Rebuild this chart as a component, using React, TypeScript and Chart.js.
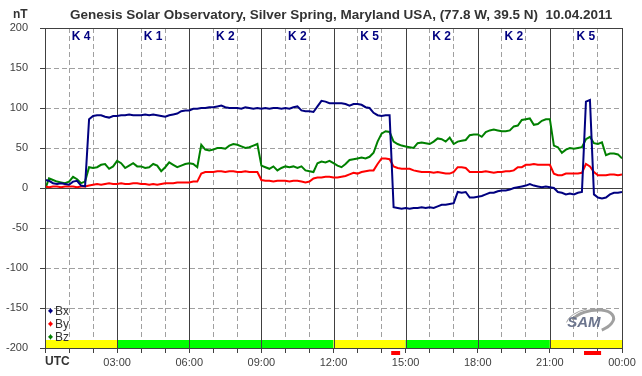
import React, { useEffect, useRef } from 'react';
import { Chart, registerables } from 'chart.js';

Chart.register(...registerables);

// Sample step of the series, in minutes (10-minute samples from 00:00 to 24:00)
const STEP_MINUTES = 10;

const BX = [
  10, 9, 6, 5, 6, 5,
  4, 8, 9, 3, 2, 86,
  90, 91, 91, 89, 88, 90,
  90, 91, 91, 92, 91, 91,
  91, 92, 91, 92, 91, 90,
  89, 91, 92, 93, 96, 97,
  97, 99, 99, 100, 100, 101,
  101, 102, 103, 101, 100, 100,
  100, 99, 101, 100, 99, 100,
  99, 100, 99, 100, 100, 99,
  100, 99, 101, 102, 97, 96,
  96, 95, 102, 109, 108, 106,
  106, 106, 106, 105, 103, 105,
  105, 104, 101, 100, 94, 91,
  90, 91, 91, -24, -25, -26,
  -25, -26, -25, -25, -24, -25,
  -24, -25, -23, -21, -21, -20,
  -19, -5, -6, -5, -12, -12,
  -11, -10, -8, -6, -6, -4,
  -3, -3, -2, 0, 1, 2,
  3, 5, 3, 2, 1, 2,
  1, 0, -5, -6, -8, -7,
  -8, -6, -5, 108, 110, -8,
  -12, -13, -12, -8, -6, -6,
  -5,
];

const BY = [
  2, 1, 2, 2, 1, 2,
  2, 2, 1, 2, 2, 3,
  4, 5, 4, 5, 6, 5,
  5, 6, 5, 5, 6, 6,
  5, 5, 4, 5, 4, 5,
  6, 6, 6, 7, 7, 7,
  7, 8, 8, 18, 20, 20,
  20, 21, 21, 20, 21, 21,
  20, 20, 21, 20, 20, 20,
  10, 9, 9, 8, 9, 9,
  9, 8, 9, 9, 8, 7,
  8, 12, 13, 13, 14, 14,
  13, 13, 14, 15, 17, 19,
  18, 20, 21, 22, 22, 30,
  37, 37, 36, 27, 25, 24,
  24, 24, 22, 21, 20, 20,
  20, 19, 20, 19, 18, 18,
  20, 26, 26, 25, 20, 20,
  20, 20, 21, 20, 19, 20,
  20, 21, 21, 22, 26, 26,
  29, 29, 30, 29, 29, 29,
  29, 18, 16, 16, 18, 18,
  18, 18, 19, 30, 27, 20,
  16, 16, 16, 17, 17, 16,
  17,
];

const BZ = [
  -2, 12, 10, 8, 7, 6,
  8, 14, 11, 6, 8, 26,
  25, 26, 29, 30, 24, 27,
  34, 31, 25, 28, 31, 27,
  27, 25, 26, 30, 28, 21,
  26, 32, 29, 26, 28, 30,
  31, 30, 26, 54, 48, 47,
  48, 50, 50, 49, 53, 55,
  54, 52, 50, 51, 53, 55,
  28, 26, 24, 27, 22, 25,
  27, 26, 27, 25, 27, 22,
  21, 20, 31, 33, 32, 34,
  31, 28, 26, 30, 35, 36,
  37, 38, 37, 39, 44, 58,
  68, 71, 70, 58, 55, 53,
  52, 51, 50, 56, 57, 56,
  55, 58, 62, 61, 58, 63,
  55, 58, 59, 60, 66, 67,
  67, 64, 70, 72, 73, 72,
  71, 71, 72, 77, 78, 85,
  86, 87, 79, 80, 84, 86,
  86, 53, 51, 44, 48, 50,
  49, 50, 51, 61, 64, 56,
  55, 57, 41, 43, 43, 42,
  37,
];

const SERIES_NAMES = ['Bx', 'By', 'Bz'];
const K_INDEX = ['K 4', 'K 1', 'K 2', 'K 2', 'K 5', 'K 2', 'K 2', 'K 5'];
const X_TICK_LABELS = ['UTC', '03:00', '06:00', '09:00', '12:00', '15:00', '18:00', '21:00', '00:00'];
const STATUS_START = [0, 3, 12, 15, 21];
const STATUS_END = [3, 12, 15, 21, 24];
const STATUS_LEVEL = ['Y', 'G', 'Y', 'G', 'Y'];
const ALERT_START = [14.4, 22.42];
const ALERT_END = [14.77, 23.13];
const TITLE = 'Genesis Solar Observatory, Silver Spring, Maryland USA, (77.8 W, 39.5 N)  10.04.2011';

const COLORS = ['#000080', '#ff0000', '#008000'];
const STATUS_COLORS: Record<string, string> = { Y: '#ffff00', G: '#00ff00' };
const FONT = '"Liberation Sans", Arial, sans-serif';
const DARK = '#404040';

function toPoints(arr: number[]) {
  return arr.map((v, i) => ({ x: (i * STEP_MINUTES) / 60, y: v }));
}

export default function App() {
  const ref = useRef<HTMLCanvasElement | null>(null);

  useEffect(() => {
    const canvas = ref.current;
    if (!canvas) return;

    const decor = {
      id: 'decor',
      beforeDraw(chart: any) {
        const ctx = chart.ctx;
        ctx.save();
        ctx.fillStyle = '#ffffff';
        ctx.fillRect(0, 0, chart.width, chart.height);
        ctx.restore();
      },
      beforeDatasetsDraw(chart: any) {
        const ctx = chart.ctx;
        const xs = chart.scales.x;
        const ys = chart.scales.y;
        const a = chart.chartArea;
        ctx.save();
        // status bar
        for (let i = 0; i < STATUS_START.length; i++) {
          const x1 = xs.getPixelForValue(STATUS_START[i]);
          const x2 = xs.getPixelForValue(STATUS_END[i]);
          const yTop = ys.getPixelForValue(-190);
          const yBot = ys.getPixelForValue(-200);
          ctx.fillStyle = STATUS_COLORS[STATUS_LEVEL[i]];
          ctx.fillRect(x1, yTop, x2 - x1, yBot - yTop);
        }
        // solid lines every 3 hours and at 0
        ctx.strokeStyle = DARK;
        ctx.lineWidth = 1;
        for (let h = 3; h < 24; h += 3) {
          const x = Math.round(xs.getPixelForValue(h)) + 0.5;
          ctx.beginPath();
          ctx.moveTo(x, a.top);
          ctx.lineTo(x, a.bottom);
          ctx.stroke();
        }
        const y0 = Math.round(ys.getPixelForValue(0)) + 0.5;
        ctx.beginPath();
        ctx.moveTo(a.left, y0);
        ctx.lineTo(a.right, y0);
        ctx.stroke();
        // K index labels
        ctx.fillStyle = '#000080';
        ctx.font = `bold 12px ${FONT}`;
        ctx.textAlign = 'center';
        ctx.textBaseline = 'middle';
        K_INDEX.forEach((k, i) => {
          const x = xs.getPixelForValue(i * 3 + 1.5);
          ctx.fillText(k, x, a.top + 9);
        });
        // legend
        ctx.font = `12px ${FONT}`;
        ctx.textAlign = 'left';
        SERIES_NAMES.forEach((n, i) => {
          const y = ys.getPixelForValue(-153) + i * 13;
          ctx.fillStyle = COLORS[i];
          ctx.fillRect(a.left + 4, y - 1, 3, 3);
          ctx.fillRect(a.left + 5, y - 2, 1, 5);
          ctx.fillRect(a.left + 3, y, 5, 1);
          ctx.fillStyle = '#333333';
          ctx.fillText(n, a.left + 10, y + 1);
        });
        // SAM logo
        const lx = xs.getPixelForValue(22.5);
        const ly = ys.getPixelForValue(-167);
        ctx.strokeStyle = 'rgba(150,150,150,0.9)';
        ctx.lineWidth = 3;
        ctx.beginPath();
        ctx.ellipse(lx + 6, ly, 22, 11, -0.2, -2.6, 1.2);
        ctx.stroke();
        ctx.lineWidth = 1;
        ctx.beginPath();
        ctx.ellipse(lx + 4, ly - 1, 24, 12, -0.2, -2.9, -1.6);
        ctx.stroke();
        ctx.font = `italic bold 15px ${FONT}`;
        ctx.fillStyle = 'rgba(100,110,135,0.95)';
        ctx.textAlign = 'center';
        ctx.fillText('SAM', lx - 2, ly + 1);
        ctx.restore();
      },
      afterDraw(chart: any) {
        const ctx = chart.ctx;
        const xs = chart.scales.x;
        const a = chart.chartArea;
        ctx.save();
        // frame
        ctx.strokeStyle = DARK;
        ctx.lineWidth = 1;
        ctx.strokeRect(Math.round(a.left) + 0.5, Math.round(a.top) + 0.5, Math.round(a.right - a.left), Math.round(a.bottom - a.top));
        // alert markers below axis
        ctx.fillStyle = '#ff0000';
        for (let i = 0; i < ALERT_START.length; i++) {
          const x1 = xs.getPixelForValue(ALERT_START[i]);
          const x2 = xs.getPixelForValue(ALERT_END[i]);
          ctx.fillRect(x1, a.bottom + 3, x2 - x1, 4);
        }
        // title and unit
        ctx.fillStyle = '#333333';
        ctx.textAlign = 'left';
        ctx.textBaseline = 'alphabetic';
        ctx.font = `bold 13.5px ${FONT}`;
        ctx.fillText(TITLE, 70, 19);
        ctx.font = `bold 12px ${FONT}`;
        ctx.fillText('nT', 13, 18);
        // UTC label
        ctx.textBaseline = 'top';
        ctx.fillText(X_TICK_LABELS[0], a.left, a.bottom + 8);
        ctx.restore();
      },
    };

    const chart = new Chart(canvas, {
      type: 'line',
      data: {
        datasets: [BX, BY, BZ].map((arr, i) => ({
          label: SERIES_NAMES[i],
          data: toPoints(arr),
          borderColor: COLORS[i],
          backgroundColor: COLORS[i],
          borderWidth: 2,
          pointRadius: 0,
          tension: 0,
          fill: false,
        })),
      },
      options: {
        responsive: false,
        animation: false,
        events: [],
        layout: { padding: { left: 0, right: 20, top: 28, bottom: 0 } },
        plugins: { legend: { display: false }, title: { display: false }, tooltip: { enabled: false } },
        scales: {
          x: {
            type: 'linear',
            min: 0,
            max: 24,
            afterFit: (s: any) => { s.height = 28; },
            ticks: {
              stepSize: 1,
              autoSkip: false,
              maxRotation: 0,
              padding: 3,
              color: DARK,
              font: { size: 11, family: FONT },
              callback: (v: any) => {
                const n = Number(v);
                return n % 3 === 0 && n !== 0 ? X_TICK_LABELS[n / 3] : '';
              },
            },
            grid: {
              color: (c: any) => (c.tick && c.tick.value % 3 === 0 ? 'rgba(0,0,0,0)' : '#a0a0a0'),
              tickColor: DARK,
              tickLength: 5,
              lineWidth: 1,
            },
            border: { display: true, color: DARK, dash: [5, 3] },
          },
          y: {
            min: -200,
            max: 200,
            afterFit: (s: any) => { s.width = 45; },
            ticks: {
              stepSize: 50,
              padding: 12,
              color: DARK,
              font: { size: 11, family: FONT },
            },
            grid: {
              color: (c: any) => (c.tick && (c.tick.value === 0 || Math.abs(c.tick.value) === 200) ? 'rgba(0,0,0,0)' : '#a0a0a0'),
              tickColor: DARK,
              tickLength: 5,
              lineWidth: 1,
            },
            border: { display: true, color: DARK, dash: [5, 3] },
          },
        },
      },
      plugins: [decor],
    });

    return () => chart.destroy();
  }, []);

  return (
    <div style={{ position: 'fixed', left: 0, top: 0, width: 642, height: 376, background: '#fff' }}>
      <canvas ref={ref} width={642} height={376} />
    </div>
  );
}
